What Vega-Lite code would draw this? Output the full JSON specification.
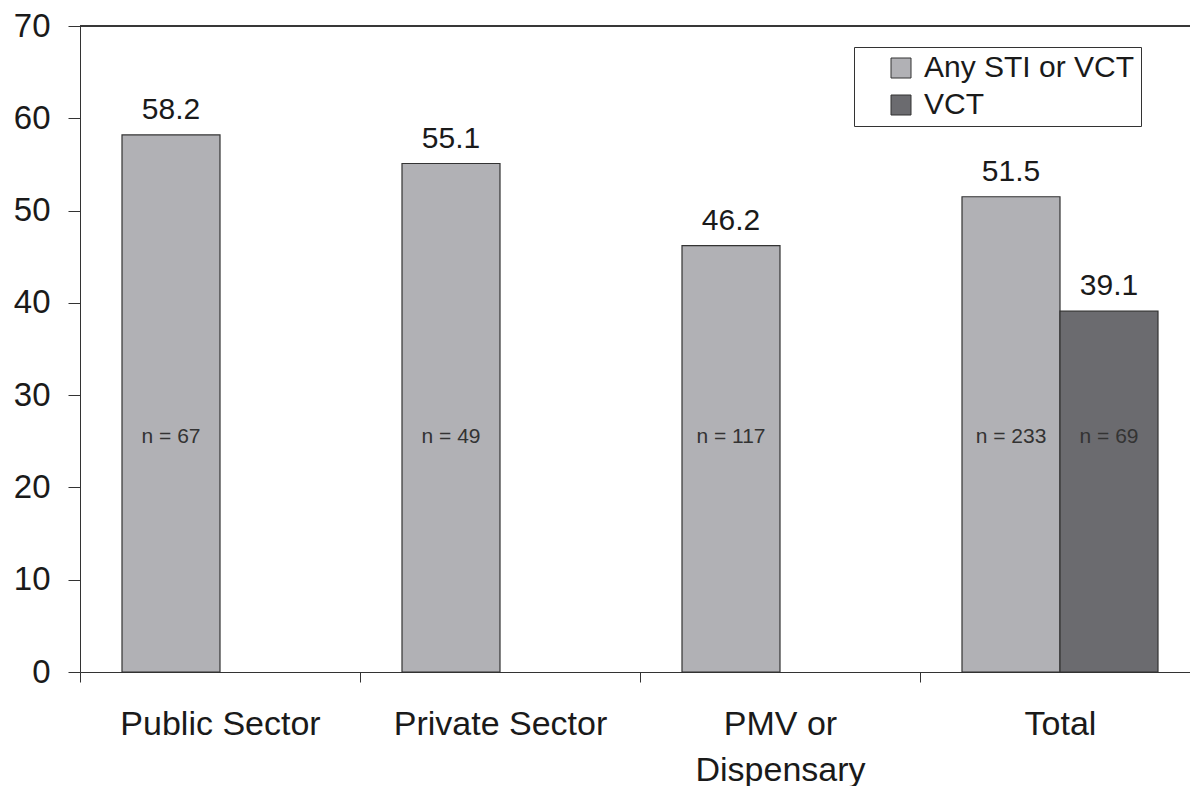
{
  "$schema": "https://vega.github.io/schema/vega-lite/v6.json",
  "width": 1110,
  "height": 646,
  "autosize": {"type": "none"},
  "padding": {"left": 80, "top": 26, "right": 0, "bottom": 114},
  "background": "white",
  "config": {
    "font": "Liberation Sans",
    "view": {"stroke": null},
    "axis": {"domainColor": "#333333", "tickColor": "#333333", "labelColor": "#1a1a1a", "grid": false, "title": null}
  },
  "data": {
    "values": [
      {"sector": "Public Sector", "measure": "Any STI or VCT", "value": 58.2, "nlabel": "n = 67"},
      {"sector": "Private Sector", "measure": "Any STI or VCT", "value": 55.1, "nlabel": "n = 49"},
      {"sector": "PMV or Dispensary", "measure": "Any STI or VCT", "value": 46.2, "nlabel": "n = 117"},
      {"sector": "Total", "measure": "Any STI or VCT", "value": 51.5, "nlabel": "n = 233"},
      {"sector": "Total", "measure": "VCT", "value": 39.1, "nlabel": "n = 69"}
    ]
  },
  "encoding": {
    "x": {
      "field": "sector", "type": "nominal", "sort": null,
      "scale": {"paddingInner": 0.3, "paddingOuter": 0.15, "range": [0, 1120]},
      "axis": {
        "labelAngle": 0, "labelFontSize": 34, "tickOffset": -140, "labelOffset": 140, "tickSize": 10, "labelLimit": 500,
        "labelPadding": 25, "labelLineHeight": 46,
        "labelExpr": "datum.label == 'PMV or Dispensary' ? ['PMV or', 'Dispensary'] : datum.label"
      }
    },
    "xOffset": {
      "field": "measure", "type": "nominal",
      "scale": {"domain": ["Any STI or VCT", "VCT"], "paddingInner": 0, "paddingOuter": 0}
    }
  },
  "layer": [
    {
      "mark": {"type": "rule", "stroke": "#333333", "strokeWidth": 1.2},
      "encoding": {"y": {"datum": 70, "type": "quantitative"}, "x": null, "xOffset": null}
    },
    {
      "mark": {"type": "bar", "stroke": "#333333", "strokeWidth": 1.2},
      "encoding": {
        "y": {
          "field": "value", "type": "quantitative",
          "scale": {"domain": [0, 70], "nice": false},
          "axis": {"values": [0, 10, 20, 30, 40, 50, 60, 70], "tickSize": 12, "labelFontSize": 33, "labelPadding": 18}
        },
        "color": {
          "field": "measure", "type": "nominal",
          "scale": {"domain": ["Any STI or VCT", "VCT"], "range": ["#b1b1b5", "#6b6b6f"]},
          "legend": {
            "title": null, "orient": "none", "legendX": 774, "legendY": 21,
            "strokeColor": "#333333", "fillColor": "white", "padding": 6,
            "symbolType": "square", "symbolSize": 400, "symbolStrokeColor": "#333333", "symbolStrokeWidth": 1,
            "symbolOffset": 26, "labelOffset": 8, "labelLimit": 500,
            "labelFontSize": 30, "labelColor": "#1a1a1a", "rowPadding": 7
          }
        }
      }
    },
    {
      "mark": {"type": "text", "fontSize": 30, "baseline": "alphabetic", "dy": -16, "color": "#1a1a1a"},
      "encoding": {
        "y": {"field": "value", "type": "quantitative"},
        "text": {"field": "value", "type": "quantitative", "format": ".1f"}
      }
    },
    {
      "mark": {"type": "text", "fontSize": 21, "baseline": "middle", "color": "#333333"},
      "encoding": {
        "y": {"datum": 25.5, "type": "quantitative"},
        "text": {"field": "nlabel", "type": "nominal"}
      }
    }
  ]
}
